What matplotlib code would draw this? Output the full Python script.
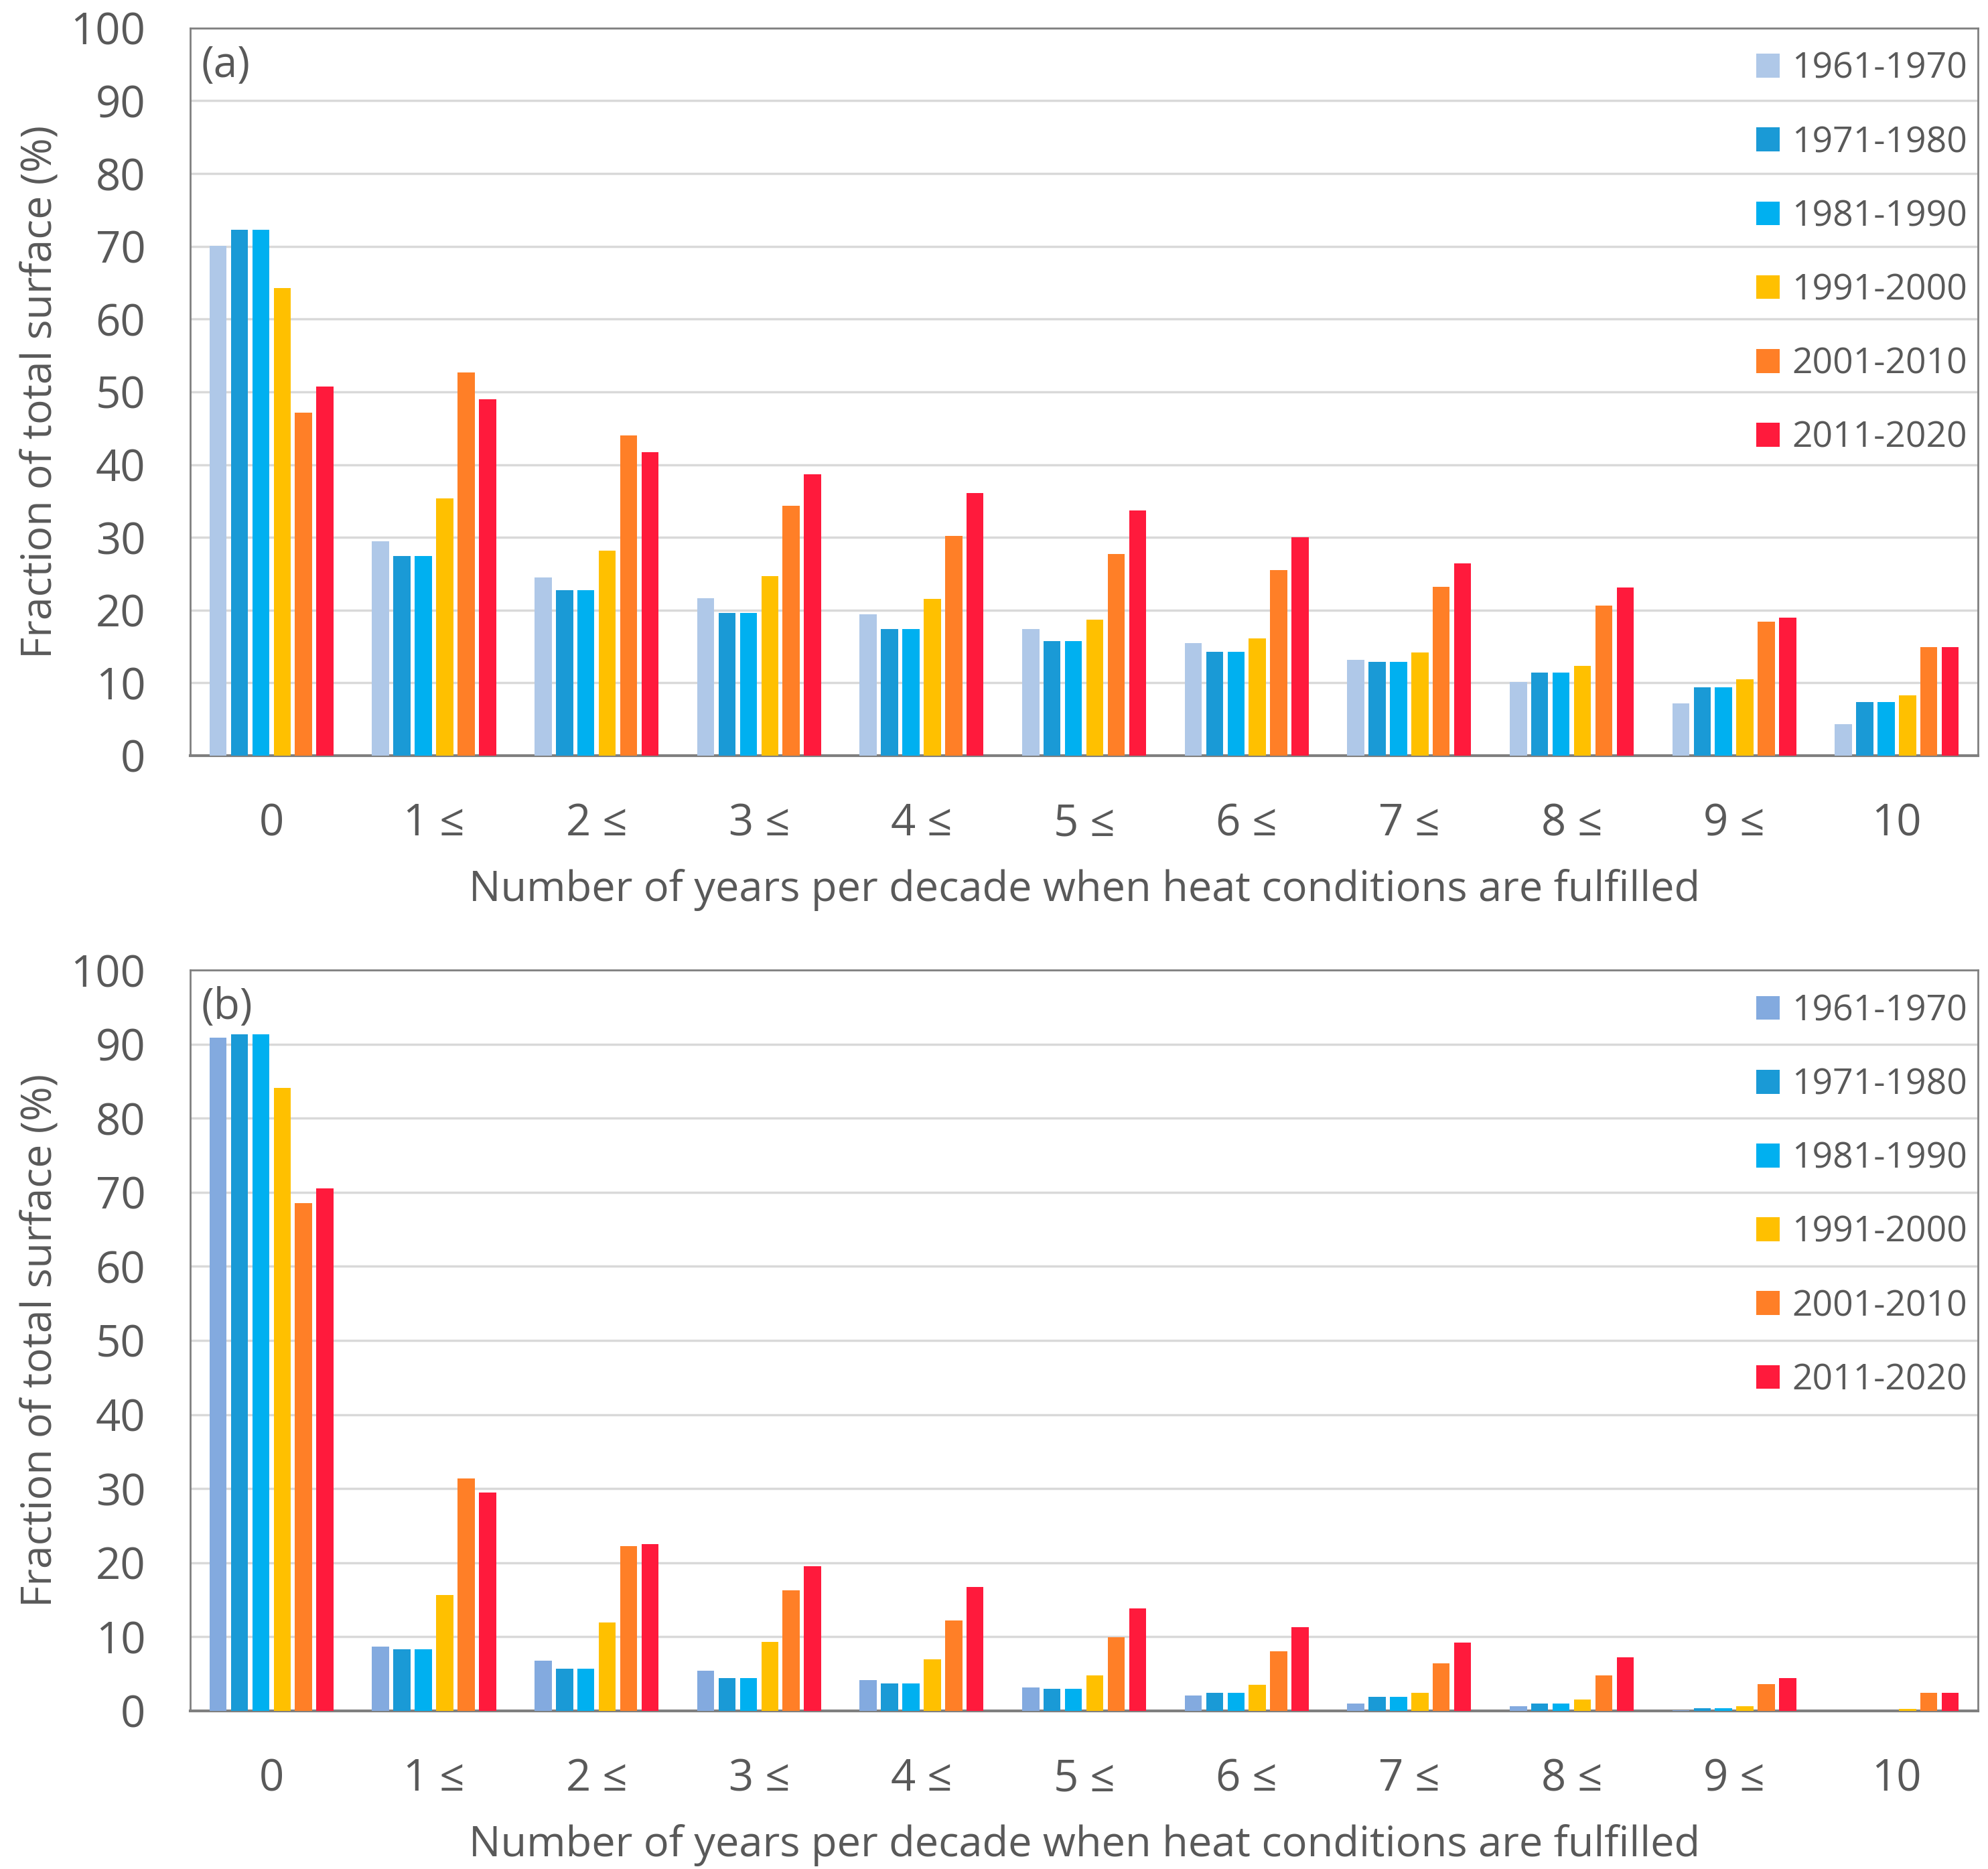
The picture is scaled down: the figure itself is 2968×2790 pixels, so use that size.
import matplotlib.pyplot as plt
import numpy as np

plt.rcParams['font.family'] = ['Open Sans', 'DejaVu Sans']

# categorias do eixo x
categorias = ['0', '1 ≤', '2 ≤', '3 ≤', '4 ≤', '5 ≤', '6 ≤', '7 ≤', '8 ≤', '9 ≤', '10']
decadas = ['1961-1970', '1971-1980', '1981-1990', '1991-2000', '2001-2010', '2011-2020']

# painel (a)
a_1961 = [70.1, 29.5, 24.5, 21.6, 19.4, 17.4, 15.5, 13.2, 10.1, 7.2, 4.3]
a_1971 = [72.3, 27.4, 22.7, 19.6, 17.4, 15.7, 14.3, 12.9, 11.4, 9.4, 7.4]
a_1981 = [72.3, 27.4, 22.7, 19.6, 17.4, 15.7, 14.3, 12.9, 11.4, 9.4, 7.4]
a_1991 = [64.3, 35.4, 28.2, 24.7, 21.5, 18.7, 16.1, 14.2, 12.3, 10.5, 8.3]
a_2001 = [47.1, 52.7, 44.0, 34.3, 30.2, 27.7, 25.5, 23.2, 20.6, 18.4, 14.9]
a_2011 = [50.7, 49.0, 41.7, 38.7, 36.1, 33.7, 30.0, 26.4, 23.1, 19.0, 14.9]

# painel (b)
b_1961 = [90.9, 8.7, 6.8, 5.4, 4.2, 3.2, 2.1, 1.0, 0.6, 0.05, 0.0]
b_1971 = [91.3, 8.3, 5.7, 4.4, 3.7, 2.95, 2.4, 1.9, 1.0, 0.4, 0.0]
b_1981 = [91.3, 8.3, 5.7, 4.4, 3.7, 2.95, 2.4, 1.9, 1.0, 0.4, 0.0]
b_1991 = [84.1, 15.6, 11.9, 9.3, 7.0, 4.75, 3.5, 2.45, 1.5, 0.6, 0.25]
b_2001 = [68.5, 31.4, 22.2, 16.3, 12.2, 9.9, 8.0, 6.4, 4.75, 3.6, 2.4]
b_2011 = [70.5, 29.5, 22.5, 19.5, 16.7, 13.8, 11.3, 9.2, 7.2, 4.4, 2.4]

cores_a = ['#AFC8E8', '#1A9AD6', '#00B0F0', '#FFC000', '#FF7F27', '#FF1A3C']
cores_b = ['#83AADF', '#1A9AD6', '#00B0F0', '#FFC000', '#FF7F27', '#FF1A3C']

cinza_texto = '#595959'
x = np.arange(len(categorias))
passo = 0.1315
largura = 0.105

fig = plt.figure(figsize=(29.68, 27.9), dpi=100)
ax_a = fig.add_axes([0.0957, 0.5957, 0.8993, 0.3893])
ax_b = fig.add_axes([0.0957, 0.0846, 0.8993, 0.3964])

paineis = [
    (ax_a, [a_1961, a_1971, a_1981, a_1991, a_2001, a_2011], cores_a, '(a)'),
    (ax_b, [b_1961, b_1971, b_1981, b_1991, b_2001, b_2011], cores_b, '(b)'),
]

for ax, series, cores, rotulo in paineis:
    for i, (vals, cor, dec) in enumerate(zip(series, cores, decadas)):
        ax.bar(x + (i - 2.5) * passo, vals, width=largura, color=cor, label=dec, zorder=3)
    ax.set_xlim(-0.5, 10.5)
    ax.set_ylim(0, 100)
    ax.set_yticks(np.arange(0, 101, 10))
    ax.set_xticks(x)
    ax.set_xticklabels(categorias)
    ax.tick_params(axis='both', length=0, labelsize=47, colors=cinza_texto)
    ax.tick_params(axis='x', pad=50)
    ax.tick_params(axis='y', pad=48)
    ax.grid(axis='y', color='#D9D9D9', linewidth=2.5, zorder=0)
    for lado in ['top', 'right', 'left']:
        ax.spines[lado].set_color('#808080')
        ax.spines[lado].set_linewidth(2)
    ax.spines['bottom'].set_color('#7F7F7F')
    ax.spines['bottom'].set_linewidth(3)
    ax.set_xlabel('Number of years per decade when heat conditions are fulfilled',
                  fontsize=45.5, color=cinza_texto, labelpad=24)
    ax.set_ylabel('Fraction of total surface (%)', fontsize=45, color=cinza_texto, labelpad=10)
    ax.text(0.006, 0.978, rotulo, transform=ax.transAxes, va='top', ha='left',
            fontsize=46, color=cinza_texto)
    leg = ax.legend(loc='upper right', bbox_to_anchor=(1.0, 0.983), frameon=False,
                    fontsize=38.5, handlelength=0.65, handleheight=0.65, handletextpad=0.35,
                    labelspacing=1.06, borderpad=0.2, borderaxespad=0.1,
                    labelcolor=cinza_texto)

fig.savefig('out.png', dpi=100)
